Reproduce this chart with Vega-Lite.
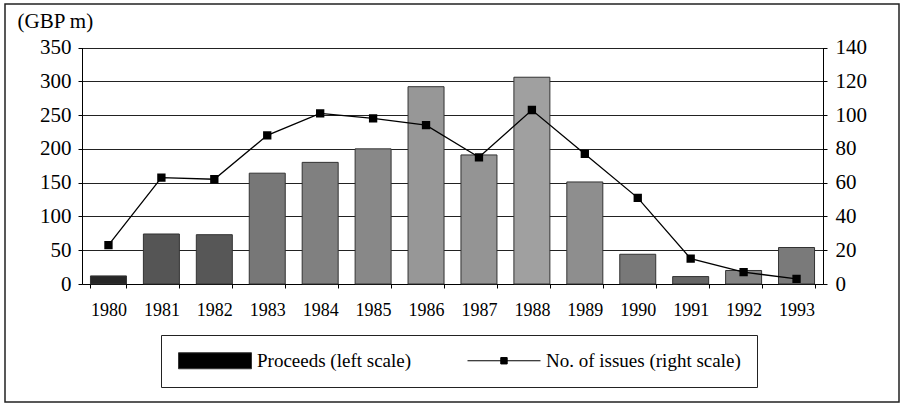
{
  "$schema": "https://vega.github.io/schema/vega-lite/v6.json",
  "autosize": {"type": "none"},
  "padding": {"left": 5, "top": 4, "right": 4, "bottom": 3},
  "width": 894,
  "height": 398,
  "background": "white",
  "config": {
    "font": "Liberation Serif",
    "view": {"stroke": "#222", "strokeWidth": 1.5},
    "axis": {"labelFont": "Liberation Serif", "titleFont": "Liberation Serif", "labelColor": "#000", "titleColor": "#000", "domainColor": "#000", "tickColor": "#000"}
  },
  "data": {
    "values": [
      {"year": "1980", "proceeds": 12, "issues": 23},
      {"year": "1981", "proceeds": 74, "issues": 63},
      {"year": "1982", "proceeds": 73, "issues": 62},
      {"year": "1983", "proceeds": 164, "issues": 88},
      {"year": "1984", "proceeds": 180, "issues": 101},
      {"year": "1985", "proceeds": 200, "issues": 98},
      {"year": "1986", "proceeds": 292, "issues": 94},
      {"year": "1987", "proceeds": 191, "issues": 75},
      {"year": "1988", "proceeds": 306, "issues": 103},
      {"year": "1989", "proceeds": 151, "issues": 77},
      {"year": "1990", "proceeds": 44, "issues": 51},
      {"year": "1991", "proceeds": 11, "issues": 15},
      {"year": "1992", "proceeds": 20, "issues": 7},
      {"year": "1993", "proceeds": 54, "issues": 3}
    ]
  },
  "encoding": {
    "x": {
      "field": "year",
      "type": "ordinal",
      "scale": {"range": [77, 818], "paddingInner": 0.32, "paddingOuter": 0.16},
      "axis": {
        "orient": "bottom",
        "offset": -118,
        "title": null,
        "labelAngle": 0,
        "labelFontSize": 18,
        "labelPadding": 13,
        "tickBand": "extent",
        "tickSize": 4,
        "grid": false,
        "domainWidth": 1.2
      }
    }
  },
  "layer": [
    {
      "mark": {"type": "bar", "strokeWidth": 1},
      "encoding": {
        "y": {
          "field": "proceeds",
          "type": "quantitative",
          "scale": {"domain": [0, 350], "range": [280, 43.5], "nice": false},
          "axis": {
            "orient": "left",
            "offset": -77,
            "values": [0, 50, 100, 150, 200, 250, 300, 350],
            "grid": true,
            "gridColor": "#222",
            "gridWidth": 1.2,
            "gridOpacity": 1,
            "labelFontSize": 21,
            "labelPadding": 7,
            "tickSize": 4,
            "title": "(GBP m)",
            "titleAngle": 0,
            "titleFontSize": 21,
            "titleFontWeight": "normal",
            "titleAlign": "left",
            "titleBaseline": "alphabetic",
            "titleX": -65,
            "titleY": 23
          }
        },
        "fill": {
          "field": "year",
          "type": "nominal",
          "legend": null,
          "scale": {
            "domain": ["1980", "1981", "1982", "1983", "1984", "1985", "1986", "1987", "1988", "1989", "1990", "1991", "1992", "1993"],
            "range": ["#262626", "#555555", "#575757", "#777777", "#808080", "#888888", "#979797", "#949494", "#a0a0a0", "#8e8e8e", "#787878", "#666666", "#858585", "#7a7a7a"]
          }
        },
        "stroke": {
          "datum": "Proceeds (left scale)",
          "type": "nominal",
          "scale": {"domain": ["Proceeds (left scale)", "No. of issues (right scale)"], "range": ["#333", "#000"]},
          "legend": {
            "orient": "none",
            "legendX": 156,
            "legendY": 331,
            "direction": "horizontal",
            "title": null,
            "strokeColor": "#222",
            "padding": 16,
            "labelFont": "Liberation Serif",
            "labelFontSize": 19,
            "labelColor": "#000",
            "labelLimit": 400,
            "labelOffset": 61,
            "columnPadding": 53,
            "symbolSize": 256,
            "symbolStrokeWidth": 1,
            "symbolType": {"expr": "datum.value === 'Proceeds (left scale)' ? 'M-1,-1H8.125V1H-1Z' : 'M-1,0H8.125M3.16,-0.4H3.96V0.4H3.16Z'"},
            "symbolFillColor": {"expr": "datum.value === 'Proceeds (left scale)' ? '#5e5e5e' : '#000'"}
          }
        }
      }
    },
    {
      "mark": {"type": "line", "strokeWidth": 1.3, "point": {"shape": "square", "size": 40, "filled": true, "color": "#000"}},
      "encoding": {
        "y": {
          "field": "issues",
          "type": "quantitative",
          "scale": {"domain": [0, 140], "range": [280, 43.5], "nice": false},
          "axis": {
            "orient": "right",
            "offset": -76,
            "values": [0, 20, 40, 60, 80, 100, 120, 140],
            "grid": false,
            "labelFontSize": 21,
            "labelPadding": 8,
            "tickSize": 4,
            "title": null
          }
        },
        "stroke": {"datum": "No. of issues (right scale)", "type": "nominal"}
      }
    }
  ],
  "resolve": {"scale": {"y": "independent"}}
}
